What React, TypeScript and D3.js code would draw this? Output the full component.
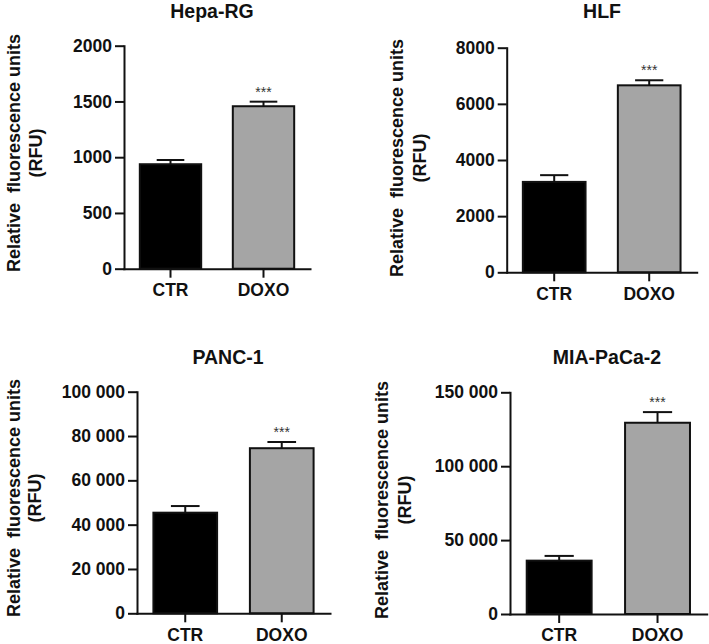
import { useEffect, useRef } from "react";
import * as d3 from "d3";

// data
const categories = ["CTR", "DOXO"];
const panelTitles = ["Hepa-RG", "HLF", "PANC-1", "MIA-PaCa-2"];
const meanValues = [
  [937, 1457],
  [3220, 6660],
  [45400, 74500],
  [36100, 129400],
];
const errorValues = [
  [38, 41],
  [240, 180],
  [3000, 2800],
  [3200, 7200],
];
const significance = ["", "***"];
const yTicks = [
  [0, 500, 1000, 1500, 2000],
  [0, 2000, 4000, 6000, 8000],
  [0, 20000, 40000, 60000, 80000, 100000],
  [0, 50000, 100000, 150000],
];
const yLabelLines = ["Relative  fluorescence units", "(RFU)"];

// panel placement on the page
const layout = [
  { left: 124, right: 310, top: 45.7, bottom: 268.7, titleX: 212, titleY: 17.5, lab1: 20, lab2: 42, labY: 153 },
  { left: 506.7, right: 696.7, top: 47.7, bottom: 272.3, titleX: 602, titleY: 17.5, lab1: 403, lab2: 426, labY: 158 },
  { left: 137, right: 330, top: 391.7, bottom: 613.3, titleX: 228, titleY: 363.5, lab1: 20, lab2: 41, labY: 498 },
  { left: 510, right: 706.7, top: 392.3, bottom: 614, titleX: 607, titleY: 363.5, lab1: 388, lab2: 411, labY: 500 },
];

const FONT = "'Liberation Sans', Arial, sans-serif";
const barFill = ["#000000", "#a5a5a5"];

const fmt = (v: number) =>
  v >= 10000 ? d3.format(",")(v).replace(/,/g, " ") : String(v);

const App = () => {
  const ref = useRef<HTMLDivElement>(null);

  useEffect(() => {
    d3.select(ref.current).select("svg").remove();

    const svg = d3
      .select(ref.current)
      .append("svg")
      .attr("width", 709)
      .attr("height", 644)
      .style("display", "block")
      .style("background", "#fff");

    panelTitles.forEach((title, p) => {
      const L = layout[p];
      const ticks = yTicks[p];
      const yMax = ticks[ticks.length - 1];

      const x = d3
        .scaleBand()
        .domain(categories)
        .range([L.left, L.right])
        .paddingInner(0.34)
        .paddingOuter(0.17);
      const y = d3.scaleLinear().domain([0, yMax]).range([L.bottom, L.top]);

      const g = svg.append("g");

      // bars
      g.selectAll(".bar")
        .data(categories)
        .enter()
        .append("rect")
        .attr("x", (c) => x(c)!)
        .attr("y", (c, i) => y(meanValues[p][i]))
        .attr("width", x.bandwidth())
        .attr("height", (c, i) => L.bottom - y(meanValues[p][i]))
        .attr("fill", (c, i) => barFill[i])
        .attr("stroke", "#111")
        .attr("stroke-width", 2);

      // error bars (upper only)
      const capW = x.bandwidth() * 0.45;
      categories.forEach((c, i) => {
        const cx = x(c)! + x.bandwidth() / 2;
        const y0 = y(meanValues[p][i]);
        const y1 = y(meanValues[p][i] + errorValues[p][i]);
        g.append("line")
          .attr("x1", cx).attr("x2", cx)
          .attr("y1", y0).attr("y2", y1)
          .attr("stroke", "#111").attr("stroke-width", 2);
        g.append("line")
          .attr("x1", cx - capW / 2).attr("x2", cx + capW / 2)
          .attr("y1", y1).attr("y2", y1)
          .attr("stroke", "#111").attr("stroke-width", 2);
        if (significance[i]) {
          g.append("text")
            .attr("x", cx)
            .attr("y", y1 - 5)
            .attr("text-anchor", "middle")
            .attr("font-family", FONT)
            .attr("font-size", 14)
            .attr("fill", "#333")
            .text(significance[i]);
        }
      });

      // axes
      const yAxis = d3
        .axisLeft(y)
        .tickValues(ticks)
        .tickSize(9)
        .tickSizeOuter(0)
        .tickPadding(3)
        .tickFormat((d) => fmt(d as number));
      const xAxis = d3.axisBottom(x).tickSize(9).tickSizeOuter(0).tickPadding(6);

      const ya = g.append("g").attr("transform", `translate(${L.left},0)`).call(yAxis);
      const xa = g.append("g").attr("transform", `translate(0,${L.bottom})`).call(xAxis);

      [ya, xa].forEach((a) => {
        a.select(".domain").attr("stroke", "#111").attr("stroke-width", 2).attr("stroke-linecap", "square");
        a.selectAll(".tick line").attr("stroke", "#111").attr("stroke-width", 2);
        a.selectAll(".tick text")
          .attr("font-family", FONT)
          .attr("font-weight", "bold")
          .attr("font-size", 17.5)
          .attr("fill", "#111");
      });

      // title
      svg.append("text")
        .attr("x", L.titleX)
        .attr("y", L.titleY)
        .attr("text-anchor", "middle")
        .attr("font-family", FONT)
        .attr("font-weight", "bold")
        .attr("font-size", 19.5)
        .attr("fill", "#111")
        .text(title);

      // y axis title, two lines
      [L.lab1, L.lab2].forEach((lx, k) => {
        svg.append("text")
          .attr("transform", `translate(${lx},${L.labY}) rotate(-90)`)
          .attr("text-anchor", "middle")
          .attr("font-family", FONT)
          .attr("font-weight", "bold")
          .attr("font-size", 18)
          .attr("fill", "#111")
          .attr("xml:space", "preserve")
          .style("white-space", "pre")
          .text(yLabelLines[k]);
      });
    });

    return () => {
      d3.select(ref.current).select("svg").remove();
    };
  }, []);

  return <div ref={ref} style={{ position: "absolute", left: 0, top: 0 }}></div>;
};

export default App;
